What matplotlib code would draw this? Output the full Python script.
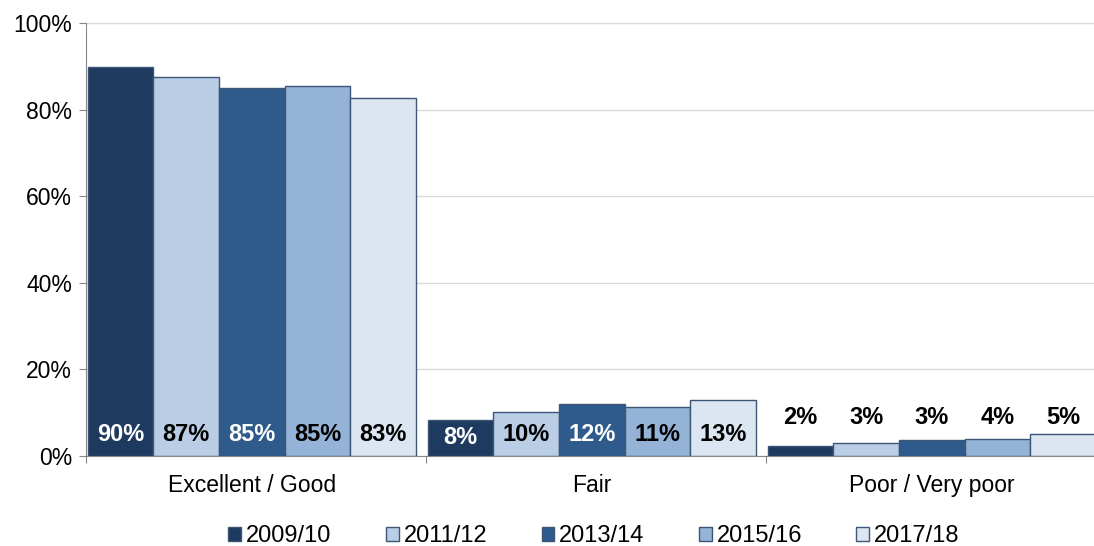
import numpy as np
import matplotlib.pyplot as plt

plt.rcParams['font.family'] = ['Liberation Sans', 'DejaVu Sans']

categories = ["Excellent / Good", "Fair", "Poor / Very poor"]
years = ["2009/10", "2011/12", "2013/14", "2015/16", "2017/18"]
# heights (per year, per category)
values = {
    "2009/10": [89.8, 8.3, 2.4],
    "2011/12": [87.4, 10.1, 3.0],
    "2013/14": [84.9, 12.0, 3.6],
    "2015/16": [85.4, 11.4, 3.9],
    "2017/18": [82.6, 12.9, 5.0],
}
labels = {
    "2009/10": ["90%", "8%", "2%"],
    "2011/12": ["87%", "10%", "3%"],
    "2013/14": ["85%", "12%", "3%"],
    "2015/16": ["85%", "11%", "4%"],
    "2017/18": ["83%", "13%", "5%"],
}
colors = ["#1f3a5f", "#b9cde5", "#2e5a8c", "#95b3d7", "#dce6f2"]
text_colors = ["white", "black", "white", "black", "black"]

fig = plt.figure(figsize=(10.94, 5.46), dpi=100)
ax = fig.add_axes([0.0786, 0.165, 0.9214, 0.793])

x = np.arange(len(categories)) + 0.5
w = 0.193
for i, yr in enumerate(years):
    pos = x + (i - 2) * w - 0.012
    ax.bar(pos, values[yr], w, color=colors[i], edgecolor="#3d5675",
           linewidth=1.0, label=yr, zorder=3)
    for j, p in enumerate(pos):
        if j < 2:
            ax.text(p, 5.0 if not (j == 1 and i == 0) else 4.2, labels[yr][j],
                    ha="center", va="center", fontsize=17, fontweight="bold",
                    color=text_colors[i], zorder=4)
        else:
            ax.text(p, 8.9, labels[yr][j], ha="center", va="center",
                    fontsize=17, fontweight="bold", color="black", zorder=4)

ax.set_xlim(0, 2.965)
ax.set_ylim(0, 100)
ax.set_yticks(np.arange(0, 101, 20))
ax.set_yticklabels([f"{v}%" for v in range(0, 101, 20)])
ax.set_xticks([0, 1, 2])
ax.set_xticklabels([])
ax.set_xticks(x - 0.012, minor=True)
ax.set_xticklabels(categories, minor=True)
ax.tick_params(axis="x", which="minor", length=0, labelsize=16.5, pad=13)
ax.tick_params(axis="x", which="major", length=5, color="#888888")
ax.tick_params(axis="y", length=5, color="#888888", labelsize=16.5, pad=5)
ax.grid(axis="y", color="#d9d9d9", linewidth=1, zorder=0)
for s in ["top", "right"]:
    ax.spines[s].set_visible(False)
for s in ["left", "bottom"]:
    ax.spines[s].set_color("#888888")

fig.legend(loc="center", bbox_to_anchor=(0.543, 0.018), ncol=5,
           frameon=False, fontsize=17, handlelength=0.55, handleheight=0.55,
           handletextpad=0.2, columnspacing=2.3, borderpad=0)

fig.savefig("out.png", dpi=100)
